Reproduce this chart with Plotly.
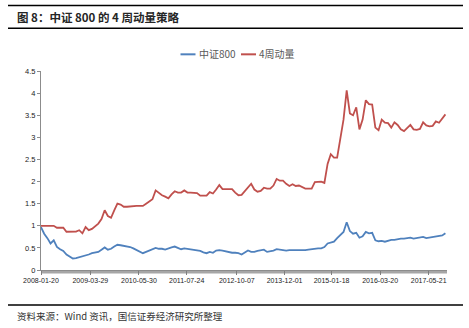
import pandas as pd
import plotly.graph_objects as go

# Sampling dates (every 4 weeks) for both series
dates = pd.date_range("2008-01-20", periods=128, freq="28D")

csi800 = [
    0.97, 0.82, 0.72, 0.60, 0.67, 0.52, 0.47, 0.43, 0.35, 0.31,
    0.26, 0.27, 0.29, 0.30, 0.33, 0.35, 0.38, 0.39, 0.41, 0.46,
    0.51, 0.46, 0.48, 0.53, 0.57, 0.56, 0.55, 0.54, 0.52, 0.49,
    0.45, 0.41, 0.38, 0.41, 0.44, 0.47, 0.50, 0.48, 0.48, 0.46,
    0.49, 0.51, 0.53, 0.50, 0.47, 0.49, 0.48, 0.47, 0.45, 0.45,
    0.43, 0.40, 0.38, 0.41, 0.39, 0.44, 0.45, 0.44, 0.42, 0.40,
    0.39, 0.39, 0.38, 0.35, 0.40, 0.44, 0.41, 0.41, 0.43, 0.45,
    0.46, 0.41, 0.42, 0.44, 0.47, 0.46, 0.45, 0.44, 0.45, 0.45,
    0.44, 0.45, 0.45, 0.45, 0.46, 0.47, 0.49, 0.49, 0.49, 0.52,
    0.60, 0.62, 0.64, 0.72, 0.79, 0.86, 1.08, 0.88, 0.82, 0.84,
    0.73, 0.76, 0.86, 0.83, 0.84, 0.67, 0.65, 0.66, 0.64, 0.66,
    0.68, 0.68, 0.70, 0.71, 0.71, 0.72, 0.73, 0.71, 0.72, 0.73,
    0.75, 0.72, 0.73, 0.74, 0.75, 0.76, 0.78, 0.83,
]

momentum4w = [
    1.00, 1.00, 1.00, 1.00, 1.00, 0.955, 0.955, 0.955, 0.865, 0.865,
    0.865, 0.87, 0.90, 0.83, 0.97, 0.90, 0.93, 0.98, 1.05, 1.15,
    1.35, 1.22, 1.18, 1.35, 1.50, 1.48, 1.43, 1.43, 1.44, 1.45,
    1.45, 1.45, 1.45, 1.50, 1.55, 1.60, 1.80, 1.74, 1.69, 1.66,
    1.62, 1.71, 1.78, 1.75, 1.75, 1.80, 1.75, 1.75, 1.75, 1.74,
    1.68, 1.68, 1.68, 1.76, 1.73, 1.82, 1.92, 1.83, 1.83, 1.83,
    1.83, 1.75, 1.69, 1.70, 1.78, 1.88, 1.95, 1.82, 1.77, 1.79,
    1.86, 1.84, 1.84, 1.91, 2.06, 2.02, 2.02, 1.95, 1.90, 1.94,
    1.90, 1.91, 1.87, 1.84, 1.84, 1.84, 1.99, 2.00, 2.00, 1.97,
    2.40, 2.62, 2.54, 2.54, 3.00, 3.40, 4.06, 3.54, 3.50, 3.68,
    3.18, 3.40, 3.84, 3.75, 3.74, 3.22, 3.16, 3.40, 3.33, 3.32,
    3.22, 3.34, 3.28, 3.18, 3.14, 3.22, 3.28, 3.18, 3.17, 3.19,
    3.34, 3.27, 3.25, 3.26, 3.36, 3.33, 3.44, 3.52,
]

series_names = ["中证800", "4周动量"]
series_colors = ["#4F81BD", "#C0504D"]

tick_dates = ["2008-01-20", "2009-03-29", "2010-05-30", "2011-07-24",
              "2012-10-07", "2013-12-01", "2015-01-18", "2016-03-20",
              "2017-05-21"]
y_ticks = [0, 0.5, 1, 1.5, 2, 2.5, 3, 3.5, 4, 4.5]
y_ticktext = ["0", "0.5", "1", "1.5", "2", "2.5", "3", "3.5", "4", "4.5"]

title_text = "图 8：中证 800 的 4 周动量策略"
source_text = "资料来源：Wind 资讯，国信证券经济研究所整理"

CJK = "Noto Sans CJK SC"
LATIN = "Liberation Sans"

fig = go.Figure()
for name, vals, color in zip(series_names, [csi800, momentum4w], series_colors):
    fig.add_trace(go.Scatter(
        x=dates, y=vals, mode="lines", name=name,
        line=dict(color=color, width=1.8), showlegend=False,
    ))

# Plot area geometry (pixels) used to place the page furniture
W, H = 469, 328
L, R, T, B = 41, 447, 70.7, 270.0
pw, ph = R - L, B - T


def px(x):
    return (x - L) / pw


def py(y):
    return (B - y) / ph


shapes = []
annotations = []

# Rules above/below the title and above the source line
for yy in (5, 28, 305):
    shapes.append(dict(type="line", xref="paper", yref="paper",
                       x0=px(8), x1=px(463), y0=py(yy), y1=py(yy),
                       line=dict(color="#000000", width=1.5)))

# Dense weekly category ticks under the x axis read as a grey strip
shapes.append(dict(type="rect", xref="paper", yref="paper",
                   x0=0, x1=1, y0=py(273.5), y1=py(270.5),
                   line=dict(width=0), fillcolor="#a6a6a6", layer="below"))

annotations.append(dict(text="<b>" + title_text + "</b>", xref="paper", yref="paper",
                        x=px(15), y=py(16.5), xanchor="left", yanchor="middle",
                        showarrow=False, font=dict(family=CJK, size=11.5, color="#262626")))
annotations.append(dict(text=source_text, xref="paper", yref="paper",
                        x=px(15), y=py(316.5), xanchor="left", yanchor="middle",
                        showarrow=False, font=dict(family=CJK, size=9.5, color="#333333")))

# Legend drawn as short line samples followed by labels
legend_items = [(180.5, 195.5, 196.5), (241, 256, 257)]
for (x0, x1, xt), name, color in zip(legend_items, series_names, series_colors):
    shapes.append(dict(type="line", xref="paper", yref="paper",
                       x0=px(x0), x1=px(x1), y0=py(54), y1=py(54),
                       line=dict(color=color, width=2)))
    annotations.append(dict(text=name, xref="paper", yref="paper",
                            x=px(xt), y=py(53.5), xanchor="left", yanchor="middle",
                            showarrow=False,
                            font=dict(family=CJK, size=10, color="#595959")))

fig.update_layout(
    width=W, height=H,
    margin=dict(l=L, r=W - R, t=T, b=H - B, pad=0),
    paper_bgcolor="white", plot_bgcolor="white",
    shapes=shapes, annotations=annotations,
    showlegend=False,
)

fig.update_xaxes(
    type="date",
    range=[pd.Timestamp("2008-01-20"), pd.Timestamp("2017-10-29")],
    tickmode="array",
    tickvals=[pd.Timestamp(d) for d in tick_dates],
    ticktext=tick_dates,
    ticks="outside", ticklen=4, tickcolor="#7f7f7f", tickwidth=1,
    showline=True, linecolor="#8c8c8c", linewidth=1,
    showgrid=False, zeroline=False,
    tickfont=dict(family=LATIN, size=7, color="#222222"),
    fixedrange=True,
)

fig.update_yaxes(
    range=[0, 4.5],
    tickmode="array", tickvals=y_ticks, ticktext=y_ticktext,
    ticks="outside", ticklen=3, tickcolor="#8c8c8c",
    showline=True, linecolor="#8c8c8c", linewidth=1,
    showgrid=False, zeroline=False,
    tickfont=dict(family=LATIN, size=7.5, color="#222222"),
    fixedrange=True,
)

fig.write_html("out.html", config=dict(displayModeBar=False))
